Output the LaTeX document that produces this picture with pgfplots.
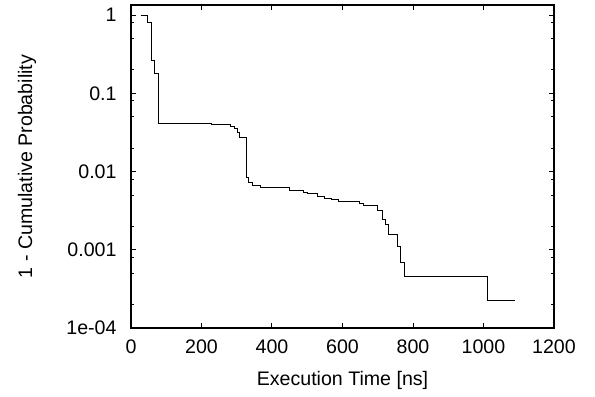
\documentclass[border=0pt]{standalone}
\usepackage{fontspec}
\setmainfont{Liberation Sans}
\usepackage{pgfplots}
\pgfplotsset{compat=1.18}
\begin{document}
\begin{tikzpicture}
\begin{axis}[
  name=ax,
  scale only axis,
  width=211.5pt, height=161.5pt,
  xmin=0, xmax=1200,
  ymode=log, ymin=1e-4, ymax=1.35,
  xtick={0,200,400,600,800,1000,1200},
  xticklabels={0,200,400,600,800,1000,1200},
  ytick={1e-4,0.001,0.01,0.1,1},
  yticklabels={1e-04,0.001,0.01,0.1,1},
  minor ytick={0.8,0.5,0.2,0.08,0.05,0.02,0.008,0.005,0.002,0.0008,0.0005,0.0002},
  tick align=inside,
  major tick length=2.5pt,
  minor tick length=1.5pt,
  tick style={black, line width=0.5pt},
  axis line style={line width=0.6pt},
  tick label style={font=\fontsize{9.8}{12}\selectfont},
  label style={font=\fontsize{9.8}{12}\selectfont},
  yticklabel style={xshift=-3.7pt},
  xticklabel style={yshift=-2.2pt},
  /pgf/number format/assume math mode=true,
  xlabel={Execution Time [ns]},
  ylabel={1 - Cumulative Probability},
  xlabel style={at={(axis description cs:0.5,0)}, anchor=center, yshift=-26pt},
  ylabel style={at={(axis description cs:0,0.5)}, anchor=center, rotate=0, yshift=52pt},
]
\addplot[const plot, black, line width=0.5pt] coordinates {
(27,1)
(47,0.80)
(57,0.26)
(68,0.178)
(79,0.0417)
(110,0.0410)
(229,0.0399)
(281,0.0376)
(295,0.0357)
(302,0.0319)
(309,0.0273)
(327,0.0085)
(333,0.0072)
(345,0.0066)
(366,0.00625)
(449,0.00578)
(489,0.00544)
(500,0.00524)
(529,0.0048)
(548,0.00457)
(569,0.0044)
(589,0.00414)
(648,0.00389)
(659,0.00365)
(699,0.00321)
(713,0.00244)
(721,0.00211)
(730,0.00158)
(755,0.00111)
(765,0.000683)
(777,0.000462)
(1011,0.000224)
(1089,0.000224)
};
\end{axis}
\path (ax.south west) ++(-65.5pt,-34pt);
\path (ax.north east) ++(20.5pt,2.5pt);
\end{tikzpicture}
\end{document}
